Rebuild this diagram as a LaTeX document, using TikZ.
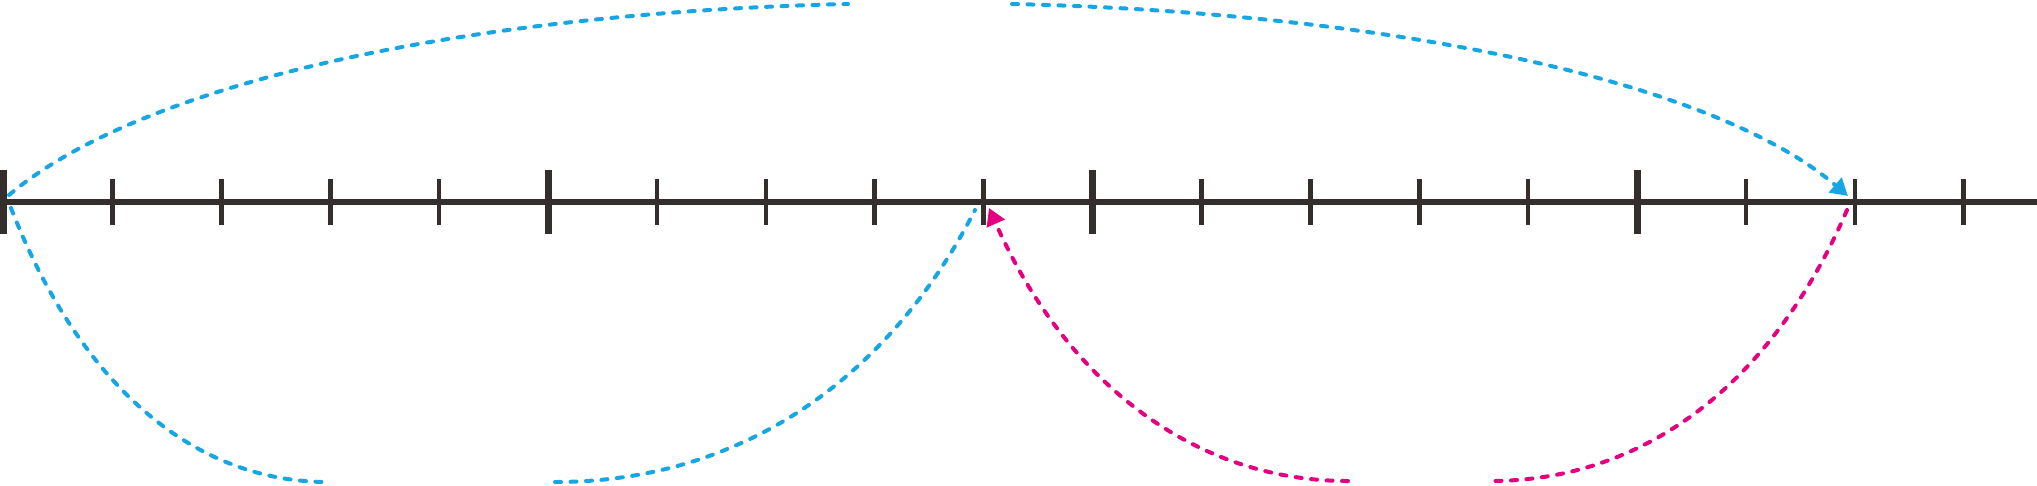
\documentclass[tikz,border=0pt]{standalone}
\usetikzlibrary{arrows.meta}
\definecolor{axiscol}{RGB}{52,47,45}
\definecolor{hopbluecol}{RGB}{22,166,228}
\definecolor{hoppinkcol}{RGB}{228,0,127}
\begin{document}
\begin{tikzpicture}[x=1pt,y=-1pt,
  axisline/.style={draw=axiscol,line width=5.7pt},
  majortick/.style={draw=axiscol,line width=7pt},
  minortick/.style={draw=axiscol,line width=4.6pt},
  hop/.style={line width=4pt,dash pattern=on 6pt off 9.5pt,line cap=round},
  hopb/.style={hop,draw=hopbluecol},
  hopp/.style={hop,draw=hoppinkcol},
  tipb/.style={-{Triangle[length=17pt,width=19pt,fill=hopbluecol]}},
  tipp/.style={-{Triangle[length=17pt,width=19pt,fill=hoppinkcol]}}
]
\useasboundingbox (0,0) rectangle (2037,485);
% axis
\coordinate (axL) at (0,202);
\coordinate (axR) at (2037,202);
\draw[axisline] (axL) -- (axR);
\foreach \i in {0,...,18}{\coordinate (t\i) at ({3.5+108.9*\i},202);}
\foreach \i in {1,2,3,4,6,7,8,9,11,12,13,14,16,17,18}{\draw[minortick] (t\i) ++(0,-23) -- ++(0,46);}
\foreach \i in {0,5,10,15}{\draw[majortick] (t\i) ++(0,-32) -- ++(0,64);}
% top blue hop 0 -> 17
\coordinate (s0u) at (9,195);
\coordinate (gTL) at (848,4);
\coordinate (gTR) at (1012,4);
\coordinate (e17u) at (1848,196);
\draw[hopb] (s0u) .. controls (150,76) and (492,12) .. (gTL);
\draw[hopb,tipb] (gTR) .. controls (1368,12) and (1708,76) .. (e17u);
% bottom blue 0 -> 9
\coordinate (s0d) at (11,208);
\coordinate (gBL) at (328,482);
\coordinate (gBR) at (555,482);
\coordinate (e9d) at (975,210);
\draw[hopb] (s0d) .. controls (77,378) and (188,482) .. (gBL);
\draw[hopb] (gBR) .. controls (740,482) and (888,380) .. (e9d);
% bottom pink 17 -> 9
\coordinate (s17d) at (1847,210);
\coordinate (gPR) at (1490,481);
\coordinate (gPL) at (1348,481);
\coordinate (e9p) at (989,208);
\draw[hopp] (s17d) .. controls (1774,380) and (1648,481) .. (gPR);
\draw[hopp,tipp] (gPL) .. controls (1190,481) and (1064,378) .. (e9p);
\end{tikzpicture}
\end{document}
